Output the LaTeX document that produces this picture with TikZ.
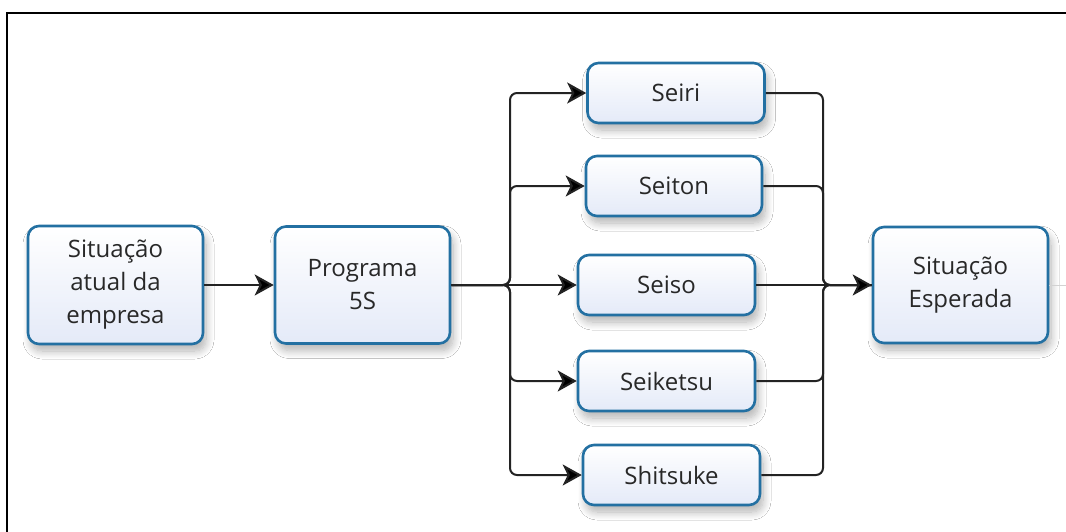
\documentclass[tikz,border=0pt]{standalone}
\usepackage{fontspec}
\setmainfont{Open Sans}
\usetikzlibrary{arrows.meta,shadows.blur}
\definecolor{boxblue}{RGB}{35,112,162}
\definecolor{boxfill}{RGB}{228,234,248}
\definecolor{txt}{RGB}{40,40,40}
\tikzset{
  stepbox/.style={draw=boxblue, line width=2.6pt, rounded corners=11pt,
    top color=white, bottom color=boxfill, text=txt, align=center,
    font=\fontsize{24}{33}\selectfont, inner sep=0pt,
    blur shadow={shadow xshift=3pt, shadow yshift=-7pt, shadow blur steps=10, shadow blur radius=8pt, shadow opacity=30}},
  conn/.style={draw={rgb,255:red,35;green,35;blue,35}, line width=2pt, rounded corners=7pt},
  arr/.style={conn, -{Stealth[length=19pt,width=21pt,inset=5pt,fill=black]}},
}
\begin{document}
\begin{tikzpicture}[x=1pt,y=-1pt]
\useasboundingbox (0,0) rectangle (1066,531);
\fill[white] (0,0) rectangle (1066,531);
% frame
\draw[line width=2.2pt, line cap=rect] (7,531) -- (7,13) -- (1066,13);

% nodes
\node[stepbox, minimum width=175pt, minimum height=118pt] (A) at (115.5,285) {Situação\\atual da\\empresa};
\node[stepbox, minimum width=175pt, minimum height=117pt] (B) at (362.5,285) {Programa\\5S};
\node[stepbox, minimum width=177pt, minimum height=60pt] (s1) at (676,93) {Seiri};
\node[stepbox, minimum width=176pt, minimum height=60pt] (s2) at (674,186) {Seiton};
\node[stepbox, minimum width=177pt, minimum height=60pt] (s3) at (666.5,285) {Seiso};
\node[stepbox, minimum width=177pt, minimum height=60pt] (s4) at (666.5,381) {Seiketsu};
\node[stepbox, minimum width=177pt, minimum height=60pt] (s5) at (671.5,475) {Shitsuke};
\node[stepbox, minimum width=175pt, minimum height=116pt] (E) at (960.5,285) {Situação\\Esperada};

% bus coordinates
\coordinate (L) at (510,285);
\coordinate (R) at (823,285);

% connectors
\draw[arr] (A.east) -- (B.west);
\foreach \s in {s1,s2,s4,s5}{
  \draw[arr] (B.east) -- (L) |- (\s.west);
}
\draw[arr] (B.east) -- (s3.west);
\foreach \s in {s1,s2,s4,s5}{
  \draw[conn] (\s.east) -| (R) -- (E.west);
}
\draw[arr] (s3.east) -- (E.west);

% faint trailing line on the right
\draw[gray!35, line width=1pt] (E.east) -- (1066,285);
\end{tikzpicture}
\end{document}
